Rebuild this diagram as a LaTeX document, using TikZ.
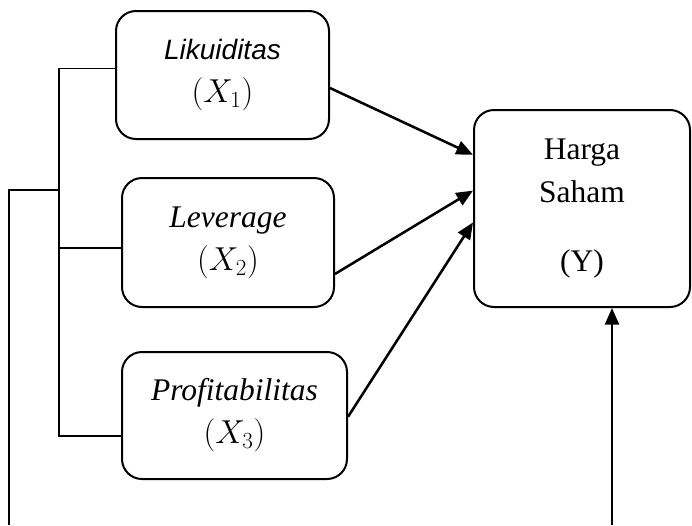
\documentclass[tikz,border=0pt]{standalone}
\usepackage{fontspec}
\setmainfont{Liberation Serif}
\newfontfamily\arialfont{Liberation Sans}
\usetikzlibrary{arrows.meta,calc}

\tikzset{
  varbox/.style={draw, line width=1.5pt, rounded corners=15pt, align=center, inner sep=0pt,
    font=\fontsize{23.6}{32.3}\selectfont},
  link/.style={line width=1.9pt, -{Triangle[length=12.5pt,width=10.5pt]}},
  bracket/.style={line width=1.4pt}
}

\begin{document}
\begin{tikzpicture}[x=0.75pt,y=0.75pt,yscale=-1,xscale=1]
        \useasboundingbox (0,0) rectangle (692,525);

        %Shape: Rounded Rect [Likuiditas]
        \node[varbox, minimum width=159.75pt, minimum height=96pt] (lik) at (222.5,75)
            {{\arialfont\itshape\fontsize{21}{32.3}\selectfont Likuiditas}\\$(X_1)$};
        %Shape: Rounded Rect [Leverage]
        \node[varbox, minimum width=159pt, minimum height=96.75pt] (lev) at (228,242.5)
            {\textit{Leverage}\\$(X_2)$};
        %Shape: Rounded Rect [Profitabilitas]
        \node[varbox, minimum width=168.75pt, minimum height=95.25pt] (prof) at (234.5,415.5)
            {\textit{Profitabilitas}\\$(X_3)$};
        %Shape: Rounded Rect [Harga Saham]
        \node[varbox, minimum width=162pt, minimum height=147.75pt] (hs) at (582,208.5)
            {Harga\\Saham\\[19.5pt](Y)};

        %Straight Lines [arrows to Y]
        \draw[link] ($(lik.north east)!0.6!(lik.south east)$) -- ($(hs.north west)!0.23!(hs.south west)$);
        \draw[link] ($(lev.north east)!0.74!(lev.south east)$) -- ($(hs.north west)!0.41!(hs.south west)$);
        \draw[link] ($(prof.north east)!0.51!(prof.south east)$) -- ($(hs.north west)!0.57!(hs.south west)$);

        %Straight Lines [bracket]
        \coordinate (junc) at (60,190);
        \coordinate (leftend) at (9,525);
        \coordinate (botend) at (612,525);
        \draw[bracket] ($(lik.north west)!0.45!(lik.south west)$) -- ++(-56,0) |- ($(prof.north west)!0.66!(prof.south west)$);
        \draw[bracket] ($(lev.north west)!0.54!(lev.south west)$) coordinate (levin) -- (levin -| junc);
        \draw[bracket] (junc) -| (leftend);

        %Straight Lines [arrow from below]
        \draw[link] (botend) -- (botend |- hs.south);

\end{tikzpicture}
\end{document}
